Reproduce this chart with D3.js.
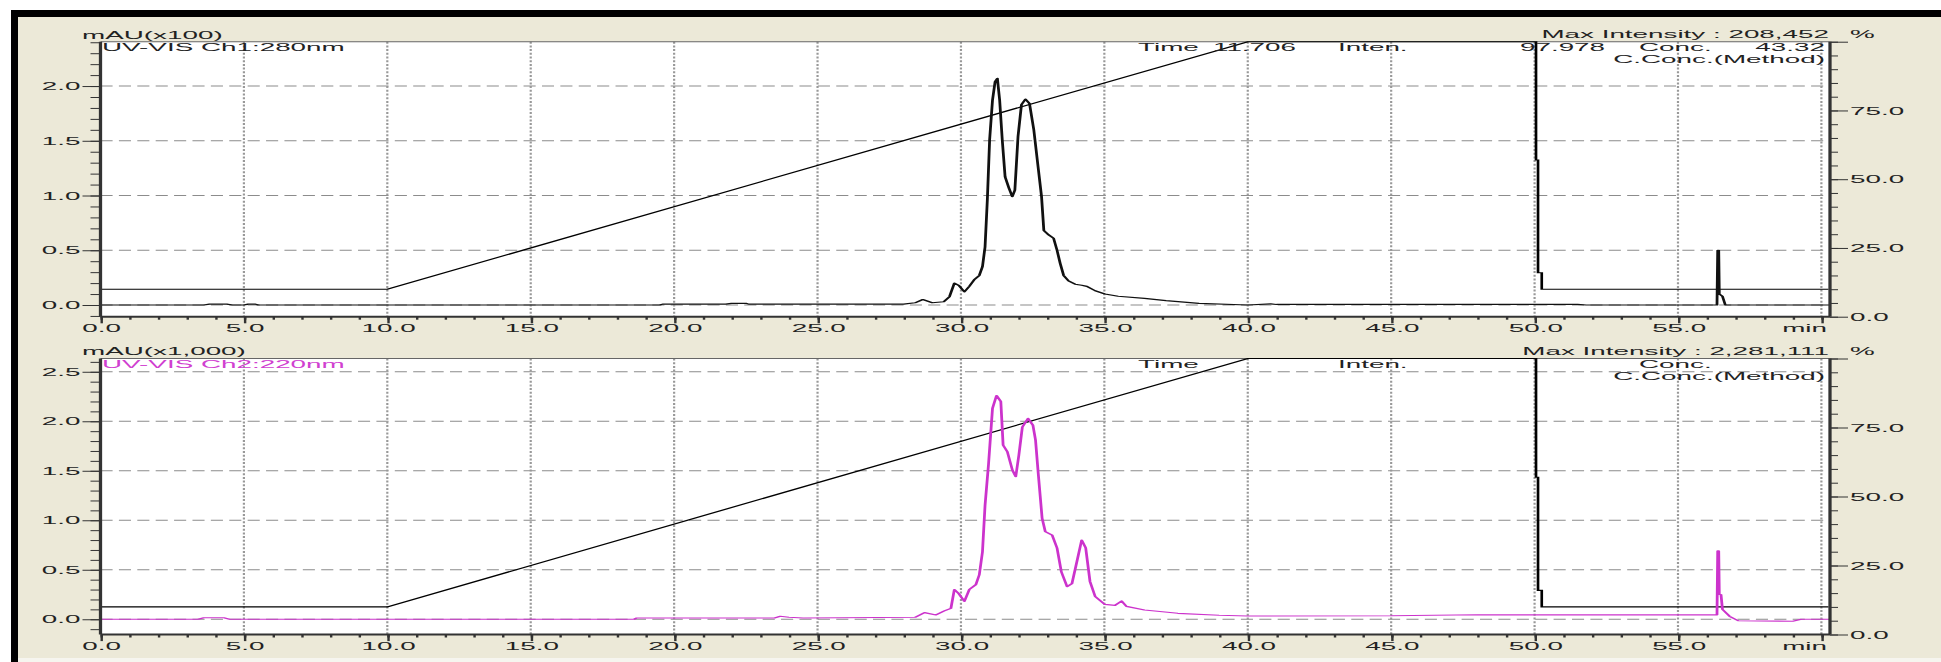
<!DOCTYPE html>
<html>
<head>
<meta charset="utf-8">
<script src="https://cdn.jsdelivr.net/npm/d3@7"></script>
<style>
  html, body { margin: 0; padding: 0; background: #fff; }
  svg { display: block; }
  text { font-family: "Liberation Sans", Arial, sans-serif; }
</style>
</head>
<body>
<svg id="chart"></svg>
<script>
// ---- Data -------------------------------------------------------------
// Channel 1, 280 nm: [retention time (min), absorbance (mAU x100)]
const ch1Trace = [
  [0, 0], [3.6, 0], [3.8, 0.008], [4.4, 0.008], [4.6, 0], [5.0, 0], [5.15, 0.008], [5.4, 0.008], [5.5, 0],
  [19.5, 0], [19.6, 0.008], [21.8, 0.008], [22.0, 0.015], [22.5, 0.015], [22.6, 0.008], [28.0, 0.008],
  [28.4, 0.02], [28.67, 0.05], [29.0, 0.02], [29.4, 0.03], [29.6, 0.076], [29.77, 0.20], [29.92, 0.18],
  [30.12, 0.12], [30.29, 0.17], [30.46, 0.23], [30.64, 0.27], [30.75, 0.35], [30.84, 0.53], [30.92, 0.96],
  [31.0, 1.51], [31.1, 1.87], [31.19, 2.04], [31.27, 2.07], [31.35, 1.87], [31.44, 1.51], [31.54, 1.17],
  [31.67, 1.07], [31.79, 0.99], [31.88, 1.05], [31.99, 1.54], [32.11, 1.83], [32.25, 1.88], [32.39, 1.84],
  [32.54, 1.60], [32.69, 1.26], [32.81, 0.99], [32.89, 0.68], [33.06, 0.64], [33.23, 0.61], [33.35, 0.50],
  [33.46, 0.38], [33.58, 0.27], [33.75, 0.22], [33.98, 0.19], [34.21, 0.18], [34.39, 0.17], [34.68, 0.13],
  [35.02, 0.10], [35.48, 0.08], [36.4, 0.06], [37.15, 0.04], [38.3, 0.015], [40.0, 0], [40.8, 0.01],
  [41.0, 0.005], [51.5, 0.005], [51.8, 0], [56.36, 0], [56.385, 0.50], [56.42, 0.50], [56.44, 0.10],
  [56.55, 0.08], [56.65, 0], [60.3, 0]
];

// Channel 2, 220 nm: [retention time (min), absorbance (mAU x1,000)]
const ch2Trace = [
  [0, 0], [3.4, 0], [3.6, 0.015], [4.3, 0.015], [4.5, 0], [18.6, 0], [18.7, 0.013], [23.5, 0.013],
  [23.7, 0.03], [24.0, 0.02], [24.5, 0.013], [28.4, 0.02], [28.73, 0.067], [29.13, 0.044], [29.42, 0.084],
  [29.65, 0.11], [29.77, 0.30], [29.92, 0.26], [30.12, 0.18], [30.29, 0.30], [30.52, 0.35], [30.64, 0.45],
  [30.75, 0.68], [30.84, 1.15], [30.96, 1.56], [31.1, 2.13], [31.24, 2.26], [31.39, 2.20], [31.47, 1.76],
  [31.62, 1.69], [31.79, 1.51], [31.91, 1.44], [32.02, 1.66], [32.14, 1.94], [32.34, 2.03], [32.51, 1.96],
  [32.6, 1.81], [32.69, 1.49], [32.83, 1.02], [32.94, 0.885], [33.18, 0.85], [33.35, 0.72], [33.5, 0.48],
  [33.7, 0.33], [33.87, 0.36], [34.04, 0.58], [34.21, 0.80], [34.35, 0.72], [34.5, 0.38], [34.68, 0.23],
  [35.02, 0.15], [35.37, 0.14], [35.6, 0.185], [35.77, 0.13], [36.4, 0.094], [37.56, 0.06], [39.0, 0.04],
  [40.0, 0.033], [45.0, 0.035], [48.0, 0.045], [56.36, 0.045], [56.385, 0.69], [56.42, 0.69], [56.44, 0.25],
  [56.5, 0.25], [56.55, 0.10], [56.8, 0.03], [57.1, -0.015], [59.0, -0.02], [59.3, 0], [60.3, 0]
];

// Pump program: [time (min), %B]
const gradientProgram = [
  [0, 10], [10, 10], [40, 100], [50.05, 100], [50.05, 57], [50.12, 57], [50.12, 16],
  [50.25, 16], [50.25, 10], [60.25, 10]
];

// Axis ticks and labels
const timeTicks = [0, 5, 10, 15, 20, 25, 30, 35, 40, 45, 50, 55, 60];
const timeTickLabels = ["0.0", "5.0", "10.0", "15.0", "20.0", "25.0", "30.0", "35.0", "40.0", "45.0", "50.0", "55.0", ""];
const ch1Ticks = [0, 0.5, 1.0, 1.5, 2.0];
const ch2Ticks = [0, 0.5, 1.0, 1.5, 2.0, 2.5];
const pctTicks = [0, 25, 50, 75];

// Header texts for each channel
const ch1Header = {
  unit: "mAU(x100)", title: "UV-VIS Ch1:280nm", max: "Max Intensity : 208,452",
  row: ["Time", "11.706", "Inten.", "97.978", "Conc.", "43.32"]
};
const ch2Header = {
  unit: "mAU(x1,000)", title: "UV-VIS Ch2:220nm", max: "Max Intensity : 2,281,111",
  row: ["Time", "", "Inten.", "", "Conc.", ""]
};

// ---- Layout -----------------------------------------------------------
// The report is drawn in a narrow coordinate space and stretched to the
// window width, so glyphs and vertical strokes are widened horizontally.
const W = 1941, H = 662, VW = 802, SX = W / VW;
const fx = px => px / SX;
const FS = 11.5;
const INK = "#222";

const svg = d3.select("#chart")
  .attr("width", W).attr("height", H)
  .attr("viewBox", `0 0 ${VW} ${H}`)
  .attr("preserveAspectRatio", "none");

// window frame
svg.append("rect").attr("width", VW).attr("height", H).attr("fill", "#fff");
svg.append("rect").attr("x", fx(11)).attr("y", 10).attr("width", VW).attr("height", H - 10).attr("fill", "#000");
svg.append("rect").attr("x", fx(18)).attr("y", 17).attr("width", VW).attr("height", 641).attr("fill", "#ECE9D8");
svg.append("rect").attr("x", fx(18)).attr("y", 658).attr("width", VW).attr("height", 4).attr("fill", "#f6f5ef");

const xLeft = fx(100.5), xRight = fx(1830);
const x = d3.scaleLinear().domain([0, 60.3]).range([xLeft, xRight]);

const panels = [
  { top: 41.7, bottom: 316.7, yDomain: [-0.107, 2.405], trace: ch1Trace, color: "#111",
    titleColor: "#222", yTicks: ch1Ticks, header: ch1Header },
  { top: 358.5, bottom: 634.5, yDomain: [-0.154, 2.634], trace: ch2Trace, color: "#cc33cc",
    titleColor: "#d040d0", yTicks: ch2Ticks, header: ch2Header }
];

const text = (g, str, px, y, anchor, color) =>
  g.append("text").attr("x", fx(px)).attr("y", y)
    .attr("text-anchor", anchor || "start")
    .attr("font-size", FS).attr("fill", color || INK).text(str);

panels.forEach(p => {
  const y = d3.scaleLinear().domain(p.yDomain).range([p.bottom, p.top]);
  const pct = d3.scaleLinear().domain([0, 100]).range([p.bottom, p.top]);
  const g = svg.append("g");

  // plot area
  g.append("rect").attr("x", xLeft).attr("y", p.top)
    .attr("width", xRight - xLeft).attr("height", p.bottom - p.top).attr("fill", "#fff");

  // grid
  g.selectAll(null).data(p.yTicks).join("line")
    .attr("x1", xLeft).attr("x2", xRight)
    .attr("y1", d => y(d)).attr("y2", d => y(d))
    .attr("stroke", "#8c8c8c").attr("stroke-width", 1).attr("stroke-dasharray", "5,2.6");
  g.selectAll(null).data(timeTicks.filter(d => d > 0)).join("line")
    .attr("x1", d => x(d)).attr("x2", d => x(d))
    .attr("y1", p.top).attr("y2", p.bottom)
    .attr("stroke", "#999").attr("stroke-width", 0.9).attr("stroke-dasharray", "2,1.7");

  // top frame
  g.append("line").attr("x1", xLeft).attr("x2", xRight).attr("y1", p.top).attr("y2", p.top)
    .attr("stroke", "#666").attr("stroke-width", 1);

  // pump program
  g.append("path").datum(gradientProgram)
    .attr("d", d3.line().x(d => x(d[0])).y(d => pct(d[1])))
    .attr("fill", "none").attr("stroke", "#000").attr("stroke-width", 1.1);

  // detector trace
  g.append("path").datum(p.trace)
    .attr("d", d3.line().x(d => x(d[0])).y(d => y(d[1])))
    .attr("fill", "none").attr("stroke", p.color).attr("stroke-width", 1.15)
    .attr("stroke-linejoin", "round");

  // axes: minor ticks
  const minorY = d3.range(-20, 40).map(i => i / 10).filter(v => v >= p.yDomain[0] && v <= p.yDomain[1] + 1e-9);
  g.append("g").attr("transform", `translate(${xLeft},0)`)
    .call(d3.axisLeft(y).tickValues(minorY).tickSize(fx(10)).tickFormat("").tickSizeOuter(0))
    .attr("color", "#333").call(a => a.select(".domain").remove());
  g.append("g").attr("transform", `translate(0,${p.bottom})`)
    .call(d3.axisBottom(x).tickValues(d3.range(0, 61)).tickSize(3).tickFormat("").tickSizeOuter(0))
    .attr("color", "#333").call(a => a.select(".domain").remove());
  g.append("g").attr("transform", `translate(${xRight},0)`)
    .call(d3.axisRight(pct).tickValues(d3.range(0, 101, 5)).tickSize(fx(8)).tickFormat("").tickSizeOuter(0))
    .attr("color", "#333").call(a => a.select(".domain").remove());

  // axes: major ticks with labels
  const left = g.append("g").attr("transform", `translate(${xLeft},0)`)
    .call(d3.axisLeft(y).tickValues(p.yTicks).tickSize(fx(18)).tickPadding(fx(2)).tickFormat(d3.format(".1f")).tickSizeOuter(0))
    .attr("color", "#333");
  left.select(".domain").remove();
  left.selectAll("text").attr("font-size", FS).attr("font-family", null).attr("fill", INK);

  const bottom = g.append("g").attr("transform", `translate(0,${p.bottom})`)
    .call(d3.axisBottom(x).tickValues(timeTicks).tickSize(6.6).tickFormat((d, i) => timeTickLabels[i]).tickSizeOuter(0))
    .attr("color", "#333");
  bottom.select(".domain").remove();
  bottom.selectAll("text").attr("font-size", FS).attr("fill", INK).attr("y", 15.8).attr("dy", null);

  const right = g.append("g").attr("transform", `translate(${xRight},0)`)
    .call(d3.axisRight(pct).tickValues([...pctTicks, 100]).tickSize(fx(18)).tickPadding(fx(2))
      .tickFormat(d => d === 100 ? "" : d3.format(".1f")(d)).tickSizeOuter(0))
    .attr("color", "#333");
  right.select(".domain").remove();
  right.selectAll("text").attr("font-size", FS).attr("fill", INK);

  // axis lines
  g.append("line").attr("x1", xLeft).attr("x2", xLeft).attr("y1", p.top).attr("y2", p.bottom)
    .attr("stroke", "#333").attr("stroke-width", 1.35);
  g.append("line").attr("x1", xRight).attr("x2", xRight).attr("y1", p.top).attr("y2", p.bottom)
    .attr("stroke", "#333").attr("stroke-width", 1.35);
  g.append("line").attr("x1", xLeft).attr("x2", xRight).attr("y1", p.bottom).attr("y2", p.bottom)
    .attr("stroke", "#333").attr("stroke-width", 2);

  // header texts
  const h = p.header;
  text(g, h.unit, 82, p.top - 3);
  text(g, h.title, 102, p.top + 9.3, "start", p.titleColor);
  text(g, h.max, 1829, p.top - 3.4, "end");
  text(g, "%", 1850, p.top - 3.4);
  const rowX = [1138, 1213, 1338, 1520, 1639, 1825];
  h.row.forEach((s, i) => {
    if (s) text(g, s, rowX[i], p.top + 9.6, i === 5 ? "end" : "start");
  });
  text(g, "C.Conc.(Method)", 1825, p.top + 21.2, "end");
  text(g, "min", 1827, p.bottom + 15.8, "end");
});
</script>
</body>
</html>
